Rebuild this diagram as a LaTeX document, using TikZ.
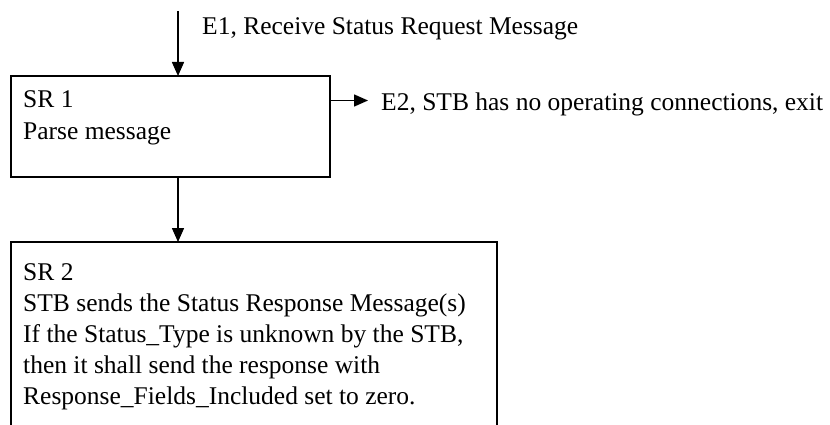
\documentclass[tikz,border=0pt]{standalone}
\usepackage{fontspec}
\setmainfont{Liberation Serif}
\usetikzlibrary{arrows.meta}
\begin{document}
\begin{tikzpicture}[x=1pt,y=-1pt,
  box/.style={draw,line width=1.5pt},
  conn/.style={line width=1.5pt,-{Triangle[length=14pt,width=12pt]}},
  txt/.style={inner sep=0pt,anchor=base west,font=\fontsize{25.5}{31}\selectfont}]
\useasboundingbox (0,0) rectangle (830,425);
\draw[box] (11,76) rectangle (330,177);
\coordinate (b1top) at (178,76);
\coordinate (b1bot) at (178,177);
\coordinate (b1right) at (330,100.5);
\draw[box] (11,430) -- (11,242) -- (497,242) -- (497,430);
\coordinate (b2top) at (178,242);
\coordinate (start) at (178,11);
\coordinate (e2end) at (368,100.5);
\draw[conn] (start) -- (b1top);
\draw[conn] (b1bot) -- (b2top);
\draw[conn] (b1right) -- (e2end);
\node[txt] (e1) at (202,35) {E1, Receive Status Request Message};
\node[txt] (e2) at (381,111) {E2, STB has no operating connections, exit};
\node[txt] (s1a) at (23,108) {SR 1};
\node[txt] (s1b) at (23,140) {Parse message};
\node[txt] (s2a) at (23,280) {SR 2};
\node[txt] (s2b) at (23,311) {STB sends the Status Response Message(s)};
\node[txt] (s2c) at (23,342) {If the Status\_Type is unknown by the STB,};
\node[txt] (s2d) at (23,373) {then it shall send the response with};
\node[txt] (s2e) at (23,404) {Response\_Fields\_Included set to zero.};
\end{tikzpicture}
\end{document}
